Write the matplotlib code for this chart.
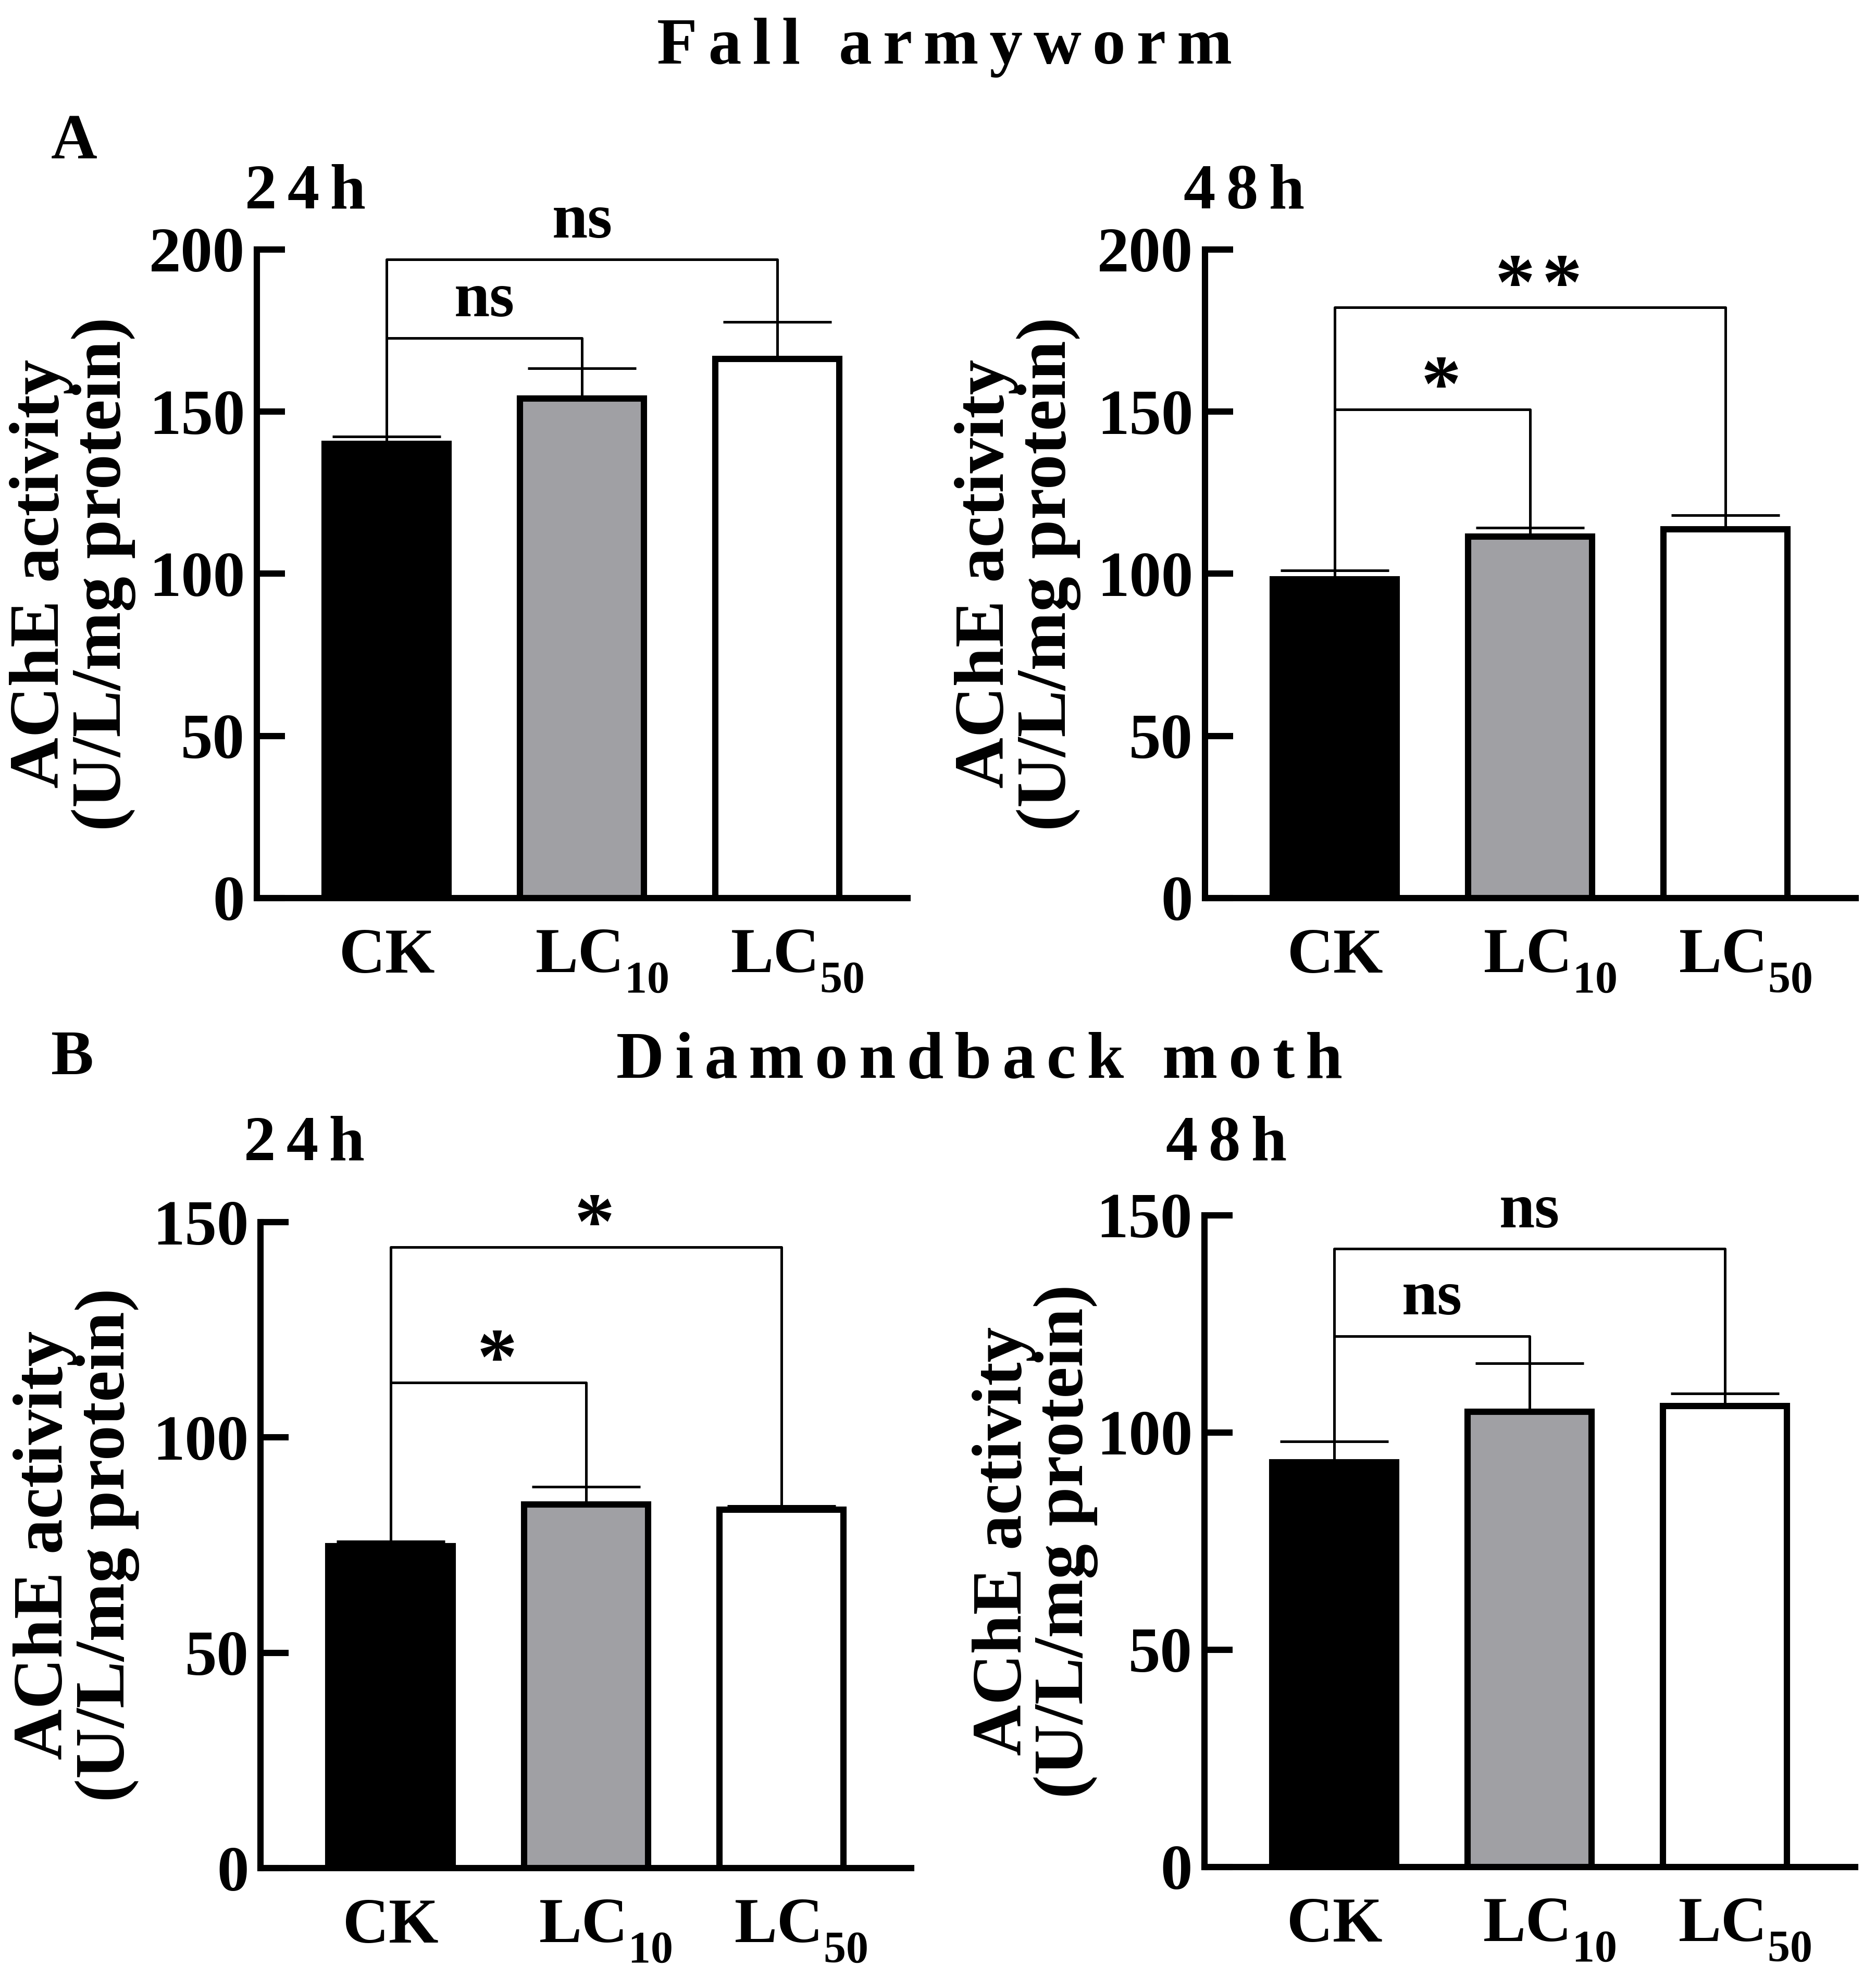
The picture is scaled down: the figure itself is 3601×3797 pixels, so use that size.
import numpy as np
import matplotlib
matplotlib.use('Agg')
import matplotlib.pyplot as plt
from matplotlib.transforms import ScaledTranslation
import matplotlib._mathtext as mathtext_impl

plt.rcParams['font.family'] = ['Liberation Serif', 'DejaVu Serif']
plt.rcParams['font.weight'] = 'bold'
plt.rcParams['axes.labelweight'] = 'bold'
plt.rcParams['mathtext.fontset'] = 'custom'
plt.rcParams['mathtext.rm'] = 'Liberation Serif:bold'
plt.rcParams['mathtext.it'] = 'Liberation Serif:bold'
plt.rcParams['mathtext.bf'] = 'Liberation Serif:bold'
# drop the subscripts a little lower, like the original
mathtext_impl.FontConstantsBase.sub1 = 0.7

# data
groups = [r'$\mathrm{CK}$', r'$\mathrm{LC}_{10}$', r'$\mathrm{LC}_{50}$']
colors = ['black', '#a0a0a4', 'white']

faw_24_mean = [140.0, 154.0, 166.2]
faw_24_se = [2.4, 9.3, 11.4]
faw_48_mean = [98.3, 111.5, 113.8]
faw_48_se = [2.7, 2.7, 4.3]
dbm_24_mean = [74.7, 84.4, 83.2]
dbm_24_se = [1.2, 4.1, 0.9]
dbm_48_mean = [93.2, 104.8, 106.1]
dbm_48_se = [4.8, 11.1, 2.9]

# significance brackets: (target bar, bracket height, label)
faw_24_sig = [(1, 172.7, 'ns'), (2, 197.0, 'ns')]
faw_48_sig = [(1, 150.7, '*'), (2, 182.1, '**')]
dbm_24_sig = [(1, 112.8, '*'), (2, 144.2, '*')]
dbm_48_sig = [(1, 122.2, 'ns'), (2, 142.3, 'ns')]

W, H = 3601, 3797
fig = plt.figure(figsize=(W / 300, H / 300), dpi=300)

FS = 29.5
SP = '\u2006'  # six-per-em space, used as letter spacing


def panel(rect, mean, se, sig, ymax, title, title_x, title_off, ylab_x):
    ax = fig.add_axes(rect)
    x = np.arange(len(mean))
    ax.errorbar(x, mean, yerr=[np.zeros(len(se)), se], fmt='none', ecolor='black',
                elinewidth=1.2, capsize=25, capthick=1.2, zorder=1)
    ax.bar(x, mean, width=0.635, color=colors, edgecolor='black', linewidth=2.9, zorder=2)
    ax.set_xlim(-0.665, 2.665)
    ax.set_ylim(0, ymax)
    ax.set_yticks(np.arange(0, ymax + 1, 50))
    ax.set_xticks(x)
    ax.set_xticklabels(groups, fontsize=FS)
    for s in ['top', 'right']:
        ax.spines[s].set_visible(False)
    for s in ['left', 'bottom']:
        ax.spines[s].set_linewidth(2.9)
    ax.tick_params(axis='y', direction='in', length=13, width=2.9, pad=5.5, labelsize=FS)
    ax.tick_params(axis='x', length=0, pad=14)
    # the LC labels are centred on "LC", the subscript hangs to the right
    for lab in ax.get_xticklabels()[1:]:
        lab.set_transform(lab.get_transform() + ScaledTranslation(9 / 72, 0, fig.dpi_scale_trans))
    ax.set_ylabel('AChE activity\n(U/L/mg protein)', fontsize=32.5, fontweight='bold',
                  linespacing=0.95, va='center')
    ax.yaxis.set_label_coords(ylab_x, 0.5)

    tops = np.array(mean) + np.array(se)
    for j, yb, lab in sig:
        ax.plot([0, 0, j, j], [tops[0], yb, yb, tops[j]], color='black', lw=1.2,
                clip_on=False, zorder=3)
        if lab == 'ns':
            ax.annotate(lab, xy=(j / 2, yb), xytext=(0, 10), textcoords='offset points',
                        ha='center', va='baseline', fontsize=FS, annotation_clip=False)
        else:
            ax.annotate('\u200a'.join(lab), xy=(j / 2, yb), xytext=(4, -0.5),
                        textcoords='offset points', ha='center', va='baseline',
                        fontsize=37, annotation_clip=False)

    ax.annotate(SP.join(title), xy=(title_x, 1), xycoords='axes fraction',
                xytext=(0, title_off), textcoords='offset points',
                ha='left', va='baseline', fontsize=FS)
    return ax


panel([0.1369, 0.54596, 0.3468, 0.32789], faw_24_mean, faw_24_se, faw_24_sig, 200,
      '24h', -0.018, 19, -0.283)
panel([0.6423, 0.54596, 0.3468, 0.32789], faw_48_mean, faw_48_se, faw_48_sig, 200,
      '48h', -0.033, 19, -0.288)
panel([0.1389, 0.05557, 0.3468, 0.32657], dbm_24_mean, dbm_24_se, dbm_24_sig, 150,
      '24h', -0.026, 28.6, -0.283)
panel([0.6420, 0.0561, 0.3468, 0.32947], dbm_48_mean, dbm_48_se, dbm_48_sig, 150,
      '48h', -0.059, 25.4, -0.260)

fig.text(0.5034, 0.968, SP.join('Fall armyworm'), ha='center', va='baseline', fontsize=30.5)
fig.text(0.522, 0.455, SP.join('Diamondback moth'), ha='center', va='baseline', fontsize=30.5)
fig.text(0.0272, 0.92, 'A', ha='left', va='baseline', fontsize=FS)
fig.text(0.0272, 0.457, 'B', ha='left', va='baseline', fontsize=FS)

fig.savefig('out.png', dpi=300)
